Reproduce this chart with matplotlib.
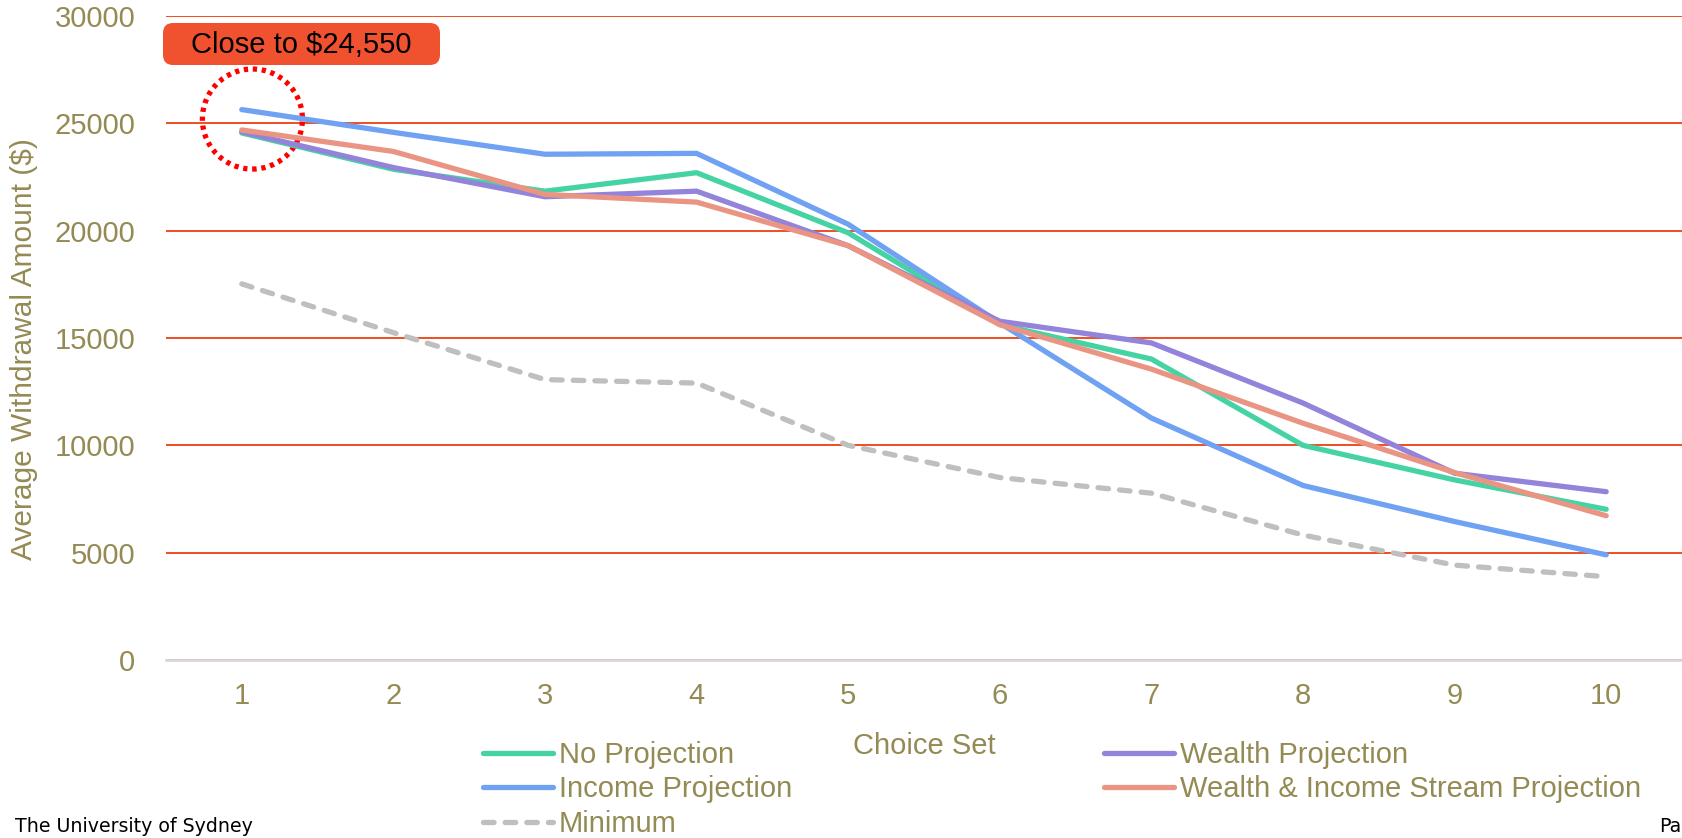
import numpy as np
import matplotlib
matplotlib.use('Agg')
import matplotlib.pyplot as plt
from matplotlib.patches import Ellipse, FancyBboxPatch

# Data
ChoiceSet = [1, 2, 3, 4, 5, 6, 7, 8, 9, 10]
NoProjection = [24550, 22860, 21840, 22700, 19900, 15620, 14020, 10000, 8390, 7020]
WealthProjection = [24600, 22940, 21580, 21840, 19300, 15780, 14770, 11970, 8700, 7840]
IncomeProjection = [25640, 24580, 23560, 23600, 20300, 15700, 11270, 8130, 6450, 4900]
WealthIncomeProjection = [24690, 23690, 21690, 21330, 19300, 15620, 13550, 11030, 8730, 6720]
Minimum = [17520, 15250, 13060, 12900, 10000, 8500, 7770, 5820, 4420, 3880]
YTicks = [0, 5000, 10000, 15000, 20000, 25000, 30000]
CalloutText = 'Close to $24,550'

olive = '#948A54'
plt.rcParams['font.family'] = ['Liberation Sans', 'DejaVu Sans']
W, H = 1682, 838

fig = plt.figure(figsize=(16.82, 8.38), dpi=100)
ax = fig.add_axes([166/W, 1-660/H, 1-166/W, (660-16)/H])

lw = 3.8
l1, = ax.plot(ChoiceSet, NoProjection, color='#46D3A4', lw=lw, solid_capstyle='round', label='No Projection')
l3, = ax.plot(ChoiceSet, IncomeProjection, color='#6FA2F2', lw=lw, solid_capstyle='round', label='Income Projection')
l2, = ax.plot(ChoiceSet, WealthProjection, color='#9483DB', lw=lw, solid_capstyle='round', label='Wealth Projection')
l4, = ax.plot(ChoiceSet, WealthIncomeProjection, color='#EA9583', lw=lw, solid_capstyle='round',
              label='Wealth & Income Stream Projection')
l5, = ax.plot(ChoiceSet, Minimum, color='#BFBFBF', lw=lw, ls=(0, (2.0, 2.1)), dash_capstyle='round', label='Minimum')

ax.set_xlim(0.5, 10.5)
ax.set_ylim(0, 30000)
ax.set_yticks(YTicks)
ax.set_xticks(ChoiceSet)
ax.yaxis.grid(True, color='#F04E23', lw=1.4)
ax.set_axisbelow(True)
for s in ['top', 'right', 'left']:
    ax.spines[s].set_visible(False)
ax.spines['bottom'].set_color('#D9D9D9')
ax.spines['bottom'].set_linewidth(2)
ax.tick_params(axis='both', length=0, labelsize=21, labelcolor=olive)
ax.tick_params(axis='y', pad=22)
ax.tick_params(axis='x', pad=16)
ax.set_ylabel('Average Withdrawal Amount ($)', fontsize=21.5, color=olive)
ax.yaxis.set_label_coords(-0.0845, 0.483)
ax.set_xlabel('Choice Set', fontsize=21, color=olive, labelpad=16)

# callout box and dotted circle around choice set 1
box = FancyBboxPatch((163/W, 1-65/H), 277/W, 42/H, boxstyle='round,pad=0,rounding_size=0.006',
                     transform=fig.transFigure, fc='#F0512F', ec='none', mutation_aspect=W/H)
fig.patches.append(box)
fig.text(301/W, 1-45/H, CalloutText, fontsize=21, color='black', ha='center', va='center')
circ = Ellipse((1.07, 25200), 0.66, 4660, fill=False, ec='#FF0000', lw=3.8, ls=(0, (0.8, 0.9)), clip_on=False)
ax.add_patch(circ)

fig.legend(handles=[l1, l3, l5, l2, l4], ncol=2, loc='upper left', bbox_to_anchor=(483/W, 1-741/H),
           frameon=False, fontsize=21, labelcolor=olive, handlelength=2.4, handletextpad=0.2,
           columnspacing=10.7, labelspacing=0.22, borderpad=0, borderaxespad=0)

fig.text(15/W, 1-826/H, 'The University of Sydney', fontsize=13.7, color='black', va='center',
         family='DejaVu Sans')
fig.text(1681/W, 1-826/H, 'Pa', fontsize=13.7, color='black', va='center', ha='right', family='DejaVu Sans')

fig.savefig('out.png', dpi=100)
